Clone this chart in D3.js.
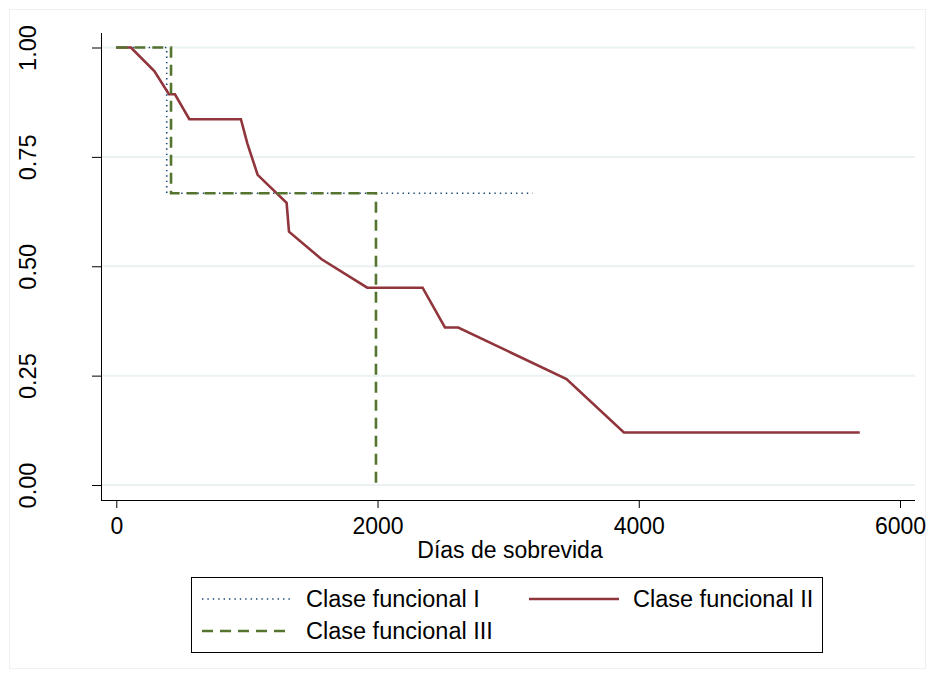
<!DOCTYPE html>
<html>
<head>
<meta charset="utf-8">
<script src="https://cdn.jsdelivr.net/npm/d3@7"></script>
<style>
  html, body { margin: 0; padding: 0; background: #ffffff; }
  svg { display: block; }
  text { font-family: "Liberation Sans", Arial, sans-serif; fill: #000; }
</style>
</head>
<body>
<svg id="chart" width="936" height="679"></svg>
<script>
// Kaplan-Meier survival estimates by functional class
const xTicks = [0, 2000, 4000, 6000];
const yTicks = [0, 0.25, 0.5, 0.75, 1];
const yTickLabels = ["0.00", "0.25", "0.50", "0.75", "1.00"];

const claseIDias = [0, 386, 3187];
const claseISurv = [1, 0.667, 0.667];

const claseIIDias = [0, 112, 291, 403, 449, 559, 954, 1003, 1082, 1304, 1322, 1572, 1921, 2345, 2516, 2618, 3447, 3886, 5692];
const claseIISurv = [1, 1, 0.946, 0.893, 0.893, 0.836, 0.836, 0.781, 0.709, 0.645, 0.579, 0.516, 0.451, 0.451, 0.360, 0.360, 0.242, 0.120, 0.120];

const claseIIIDias = [0, 419, 1988];
const claseIIISurv = [1, 0.667, 0];

const legendLabels = ["Clase funcional I", "Clase funcional II", "Clase funcional III"];
const xTitle = "Días de sobrevida";

const colors = { I: "#1a476f", II: "#90353b", III: "#55752f" };

const svg = d3.select("#chart");

// outer graph region frame
svg.append("rect")
  .attr("x", 9.5).attr("y", 9.5)
  .attr("width", 916).attr("height", 659)
  .attr("fill", "#ffffff")
  .attr("stroke", "#f0f0f0").attr("stroke-width", 1);

const x = d3.scaleLinear().domain([0, 6000]).range([116.3, 900]);
const y = d3.scaleLinear().domain([0, 1]).range([485, 47.5]);

const plotLeft = 101, plotRight = 915, plotTop = 33, plotBottom = 500;

// horizontal gridlines
svg.append("g")
  .selectAll("line")
  .data(yTicks)
  .join("line")
  .attr("x1", plotLeft + 1).attr("x2", plotRight)
  .attr("y1", d => y(d)).attr("y2", d => y(d))
  .attr("stroke", "#eaf2f3").attr("stroke-width", 2);

// y axis
const yAxis = d3.axisLeft(y)
  .tickValues(yTicks)
  .tickSize(9)
  .tickPadding(0)
  .tickFormat((d, i) => yTickLabels[i]);
const gy = svg.append("g").attr("transform", `translate(${plotLeft},0)`).call(yAxis);
gy.select(".domain").remove();
gy.selectAll(".tick line").attr("stroke", "#000").attr("stroke-width", 1);
gy.selectAll(".tick text").remove();
gy.selectAll(".tick")
  .append("text")
  .attr("transform", "translate(-73,0) rotate(-90)")
  .attr("text-anchor", "middle")
  .attr("dy", "0.35em")
  .attr("font-size", 23.5)
  .text((d, i) => yTickLabels[i]);
svg.append("line")
  .attr("x1", plotLeft + 0.5).attr("x2", plotLeft + 0.5)
  .attr("y1", plotTop).attr("y2", plotBottom + 0.5)
  .attr("stroke", "#000").attr("stroke-width", 1);

// x axis
const xAxis = d3.axisBottom(x)
  .tickValues(xTicks)
  .tickSize(8)
  .tickPadding(10)
  .tickFormat(d3.format("d"));
const gx = svg.append("g").attr("transform", `translate(0,${plotBottom})`).call(xAxis);
gx.select(".domain").remove();
gx.selectAll(".tick line").attr("stroke", "#000").attr("stroke-width", 1);
gx.selectAll(".tick text").attr("font-size", 23).attr("fill", "#000")
  .attr("font-family", "Liberation Sans, Arial, sans-serif");
svg.append("line")
  .attr("x1", plotLeft).attr("x2", plotRight)
  .attr("y1", plotBottom + 0.5).attr("y2", plotBottom + 0.5)
  .attr("stroke", "#000").attr("stroke-width", 1);

svg.append("text")
  .attr("x", 510).attr("y", 558)
  .attr("text-anchor", "middle")
  .attr("font-size", 23)
  .text(xTitle);

// survival curves
const stepLine = d3.line().x(d => x(d[0])).y(d => y(d[1])).curve(d3.curveStepAfter);
const straightLine = d3.line().x(d => x(d[0])).y(d => y(d[1]));

const dataI = d3.zip(claseIDias, claseISurv);
const dataII = d3.zip(claseIIDias, claseIISurv);
const dataIII = d3.zip(claseIIIDias, claseIIISurv);

const styles = {
  I: { stroke: colors.I, width: 1.6, dash: "1.4,4" },
  II: { stroke: colors.II, width: 2.6, dash: null },
  III: { stroke: colors.III, width: 2.6, dash: "11,7" }
};

svg.append("path").datum(dataI)
  .attr("d", stepLine)
  .attr("fill", "none")
  .attr("stroke", styles.I.stroke).attr("stroke-width", styles.I.width)
  .attr("stroke-dasharray", styles.I.dash);

svg.append("path").datum(dataII)
  .attr("d", straightLine)
  .attr("fill", "none")
  .attr("stroke", styles.II.stroke).attr("stroke-width", styles.II.width)
  .attr("stroke-linejoin", "miter");

svg.append("path").datum(dataIII)
  .attr("d", stepLine)
  .attr("fill", "none")
  .attr("stroke", styles.III.stroke).attr("stroke-width", styles.III.width)
  .attr("stroke-dasharray", styles.III.dash);

// legend
const lg = svg.append("g");
lg.append("rect")
  .attr("x", 191.5).attr("y", 577.5)
  .attr("width", 631).attr("height", 75)
  .attr("fill", "#fff").attr("stroke", "#000").attr("stroke-width", 1);

const legendItems = [
  { key: "I", x: 202, y: 599, label: legendLabels[0] },
  { key: "II", x: 529, y: 599, label: legendLabels[1] },
  { key: "III", x: 202, y: 631, label: legendLabels[2] }
];
legendItems.forEach(it => {
  const s = styles[it.key];
  lg.append("line")
    .attr("x1", it.x).attr("x2", it.x + 90)
    .attr("y1", it.y).attr("y2", it.y)
    .attr("stroke", s.stroke).attr("stroke-width", s.width)
    .attr("stroke-dasharray", s.dash);
  lg.append("text")
    .attr("x", it.x + 104).attr("y", it.y)
    .attr("dy", "0.36em")
    .attr("font-size", 23.5)
    .text(it.label);
});
</script>
</body>
</html>
